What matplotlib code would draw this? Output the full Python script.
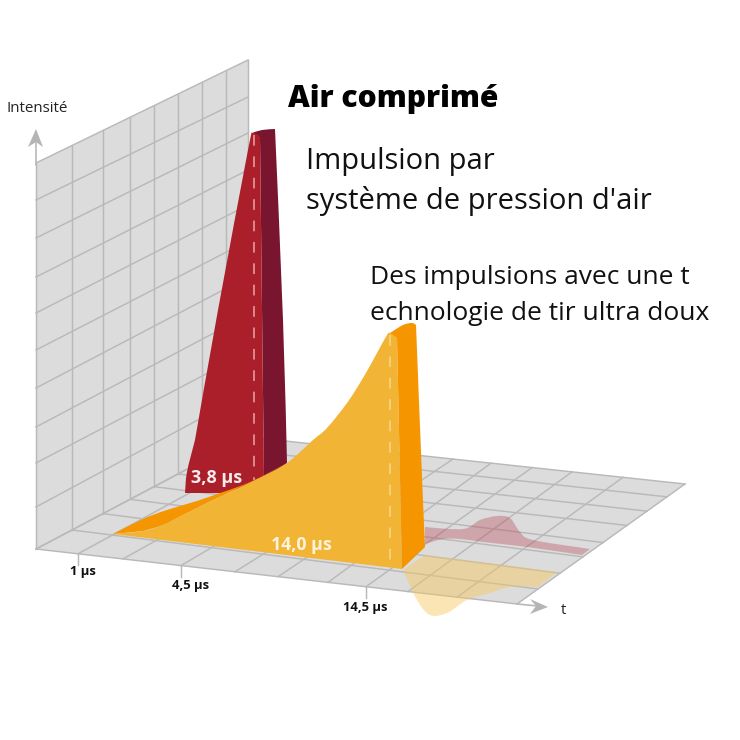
import numpy as np
import matplotlib
matplotlib.use('Agg')
import matplotlib.pyplot as plt
from matplotlib.patches import PathPatch, Polygon
from matplotlib.path import Path

plt.rcParams['font.family'] = ['Open Sans', 'DejaVu Sans']

# Wall and floor outline, picture pixels
wall_left_y = [163, 200, 238, 277, 313, 350, 388, 427, 463, 507, 549]
wall_right_y = [60, 97, 133, 170, 205, 241, 277, 315, 352, 393, 437]
wall_x = [36, 72, 103, 130, 154, 178, 202, 226, 248]
floor_front_x = [36, 78, 123, 181, 235, 278, 328, 366, 408, 457, 517]
floor_back_x = [248, 285, 326, 376, 421, 453, 491, 532, 572, 623, 685]
floor_right_x = [517, 538, 560, 583, 603, 627, 647, 667, 685]

# Pulse outlines, each shape is a list of smooth runs joined by straight edges
red_front = [[(185, 493), (187, 472), (195, 440)],
             [(195, 440), (218, 310), (248, 150), (252, 133)],
             [(252, 133), (257, 134), (260, 138)],
             [(260, 138), (264, 480)], [(225, 493)]]
red_side = [[(252, 133), (262, 130), (275, 129)],
            [(275, 129), (283, 320), (287, 463)],
            [(264, 478), (260, 138)]]
orange_tail = [[(113, 534), (143, 519), (167, 510), (197, 501), (220, 493), (243, 485), (267, 474), (287, 463)],
               [(257, 479), (230, 492), (207, 503), (183, 515), (163, 525), (143, 531)]]
yellow_front = [[(113, 534), (143, 531), (163, 525), (183, 515), (207, 503), (230, 492), (257, 479), (287, 463),
                 (313, 440), (327, 428), (347, 403), (363, 378), (377, 353), (387, 335), (390, 333), (397, 338)],
                [(397, 338), (402, 569)]]
orange_side = [[(390, 333), (403, 325), (412, 323), (416, 325)],
               [(416, 325), (422, 477), (425, 547)],
               [(402, 569), (397, 338)]]
red_shadow = [[(425, 527), (463, 529), (480, 520), (497, 516), (510, 518), (520, 532), (533, 540), (590, 549)],
              [(582, 555), (527, 547), (483, 542), (460, 539), (443, 539), (425, 544)]]
yellow_shadow = [[(425, 555), (557, 572)],
                 [(538, 587), (510, 587), (490, 593), (467, 600), (447, 613), (430, 615), (417, 600), (403, 570)]]

tick_labels = ['1 µs', '4,5 µs', '14,5 µs']
tick_x = [78, 181, 366]
tick_label_x = [83, 191, 365]
tick_label_y = [571, 585, 608]

GRID = '#b9b9b9'
FLOOR = '#dcdcdc'


def shape(runs, **kw):
    # Catmull-Rom through each run, straight line between runs
    verts, codes = [], []
    for run in runs:
        pts = np.array(run, float)
        verts.append(pts[0])
        codes.append(Path.MOVETO if not codes else Path.LINETO)
        for i in range(len(pts) - 1):
            p0 = pts[max(i - 1, 0)]
            p1, p2 = pts[i], pts[i + 1]
            p3 = pts[min(i + 2, len(pts) - 1)]
            verts += [p1 + (p2 - p0) / 6, p2 - (p3 - p1) / 6, p2]
            codes += [Path.CURVE4] * 3
    verts.append(verts[0])
    codes.append(Path.CLOSEPOLY)
    return PathPatch(Path(verts, codes), ec='none', **kw)


fig = plt.figure(figsize=(7.4, 7.4), dpi=100)
ax = fig.add_axes([0, 0, 1, 1])
ax.set_xlim(0, 740)
ax.set_ylim(740, 0)
ax.axis('off')

# back wall
ax.add_patch(Polygon([(36, 163), (248, 60), (248, 437), (36, 549)], fc=FLOOR, ec='none', zorder=1))
for yl, yr in zip(wall_left_y, wall_right_y):
    ax.plot([36, 248], [yl, yr], color=GRID, lw=1.05, zorder=2)
for x in wall_x:
    top = np.interp(x, [36, 248], [163, 60])
    bot = np.interp(x, [36, 248], [549, 437])
    ax.plot([x, x], [top, bot], color=GRID, lw=1.05, zorder=2)

# floor
ax.add_patch(Polygon([(36, 549), (248, 437), (685, 484), (517, 604)], fc=FLOOR, ec='none', zorder=1))
for xf, xb in zip(floor_front_x, floor_back_x):
    yf = np.interp(xf, [36, 517], [549, 604])
    yb = np.interp(xb, [248, 685], [437, 484])
    ax.plot([xf, xb], [yf, yb], color=GRID, lw=1.05, zorder=2)
for xl, xr in zip(wall_x, floor_right_x):
    yl = np.interp(xl, [36, 248], [549, 437])
    yr = np.interp(xr, [517, 685], [604, 484])
    ax.plot([xl, xr], [yl, yr], color=GRID, lw=1.05, zorder=2)

# shadows on the floor
ax.add_patch(shape(red_shadow, fc='#b5404f', alpha=0.35, zorder=3))
ax.add_patch(shape(yellow_shadow, fc='#f7c75a', alpha=0.45, zorder=3))

# pulses
ax.add_patch(shape(red_side, fc='#7a1530', zorder=4))
ax.add_patch(shape(red_front, fc='#ab1f2b', zorder=4))
ax.plot([254, 254], [135, 480], color='#e6a6a6', lw=1.1, dashes=(7, 7), zorder=5)
ax.add_patch(shape(orange_tail, fc='#f59500', zorder=6))
ax.add_patch(shape(yellow_front, fc='#f2b434', zorder=7))
ax.add_patch(shape(orange_side, fc='#f59500', zorder=7))
ax.plot([390, 390], [335, 568], color='#f8d78a', lw=1.1, dashes=(7, 7), zorder=8)

# arrows
ax.add_patch(Polygon([(36, 129), (43, 147), (36, 142), (28, 147)], fc='#b5b5b5', ec='none', zorder=3))
ax.plot([36, 36], [142, 165], color=GRID, lw=1.2, zorder=2)
ax.add_patch(Polygon([(548, 607), (530, 614), (536, 606), (530, 599)], fc='#b5b5b5', ec='none', zorder=3))
ax.plot([517, 538], [604, 606], color=GRID, lw=1.2, zorder=2)

# ticks
for x in tick_x:
    y = np.interp(x, [36, 517], [549, 604])
    ax.plot([x, x], [y, y + 11], color=GRID, lw=1.05, zorder=2)
for lab, x, y in zip(tick_labels, tick_label_x, tick_label_y):
    ax.text(x, y, lab, fontsize=9.4, fontweight='bold', ha='center', va='center', color='#111111', zorder=9)

ax.text(7, 109, 'Intensité', fontsize=10.9, ha='left', va='center', color='#222222')
ax.text(563, 611, 't', fontsize=10.9, ha='center', va='center', color='#222222')
ax.text(288, 99, 'Air comprimé', fontsize=21.6, fontweight='heavy', ha='left', va='center', color='black')
ax.text(306, 161, 'Impulsion par', fontsize=21, ha='left', va='center', color='#111111')
ax.text(306, 201, "système de pression d'air", fontsize=21, ha='left', va='center', color='#111111')
ax.text(370, 277, 'Des impulsions avec une t', fontsize=19, ha='left', va='center', color='#111111')
ax.text(370, 313, 'echnologie de tir ultra doux', fontsize=19, ha='left', va='center', color='#111111')
ax.text(217, 478, '3,8 µs', fontsize=13, fontweight='bold', ha='center', va='center', color='#f5ecec', zorder=9)
ax.text(301, 545, '14,0 µs', fontsize=12.8, fontweight='bold', ha='center', va='center', color='#fdf3dc', zorder=9)

fig.savefig('out.png', dpi=100)
